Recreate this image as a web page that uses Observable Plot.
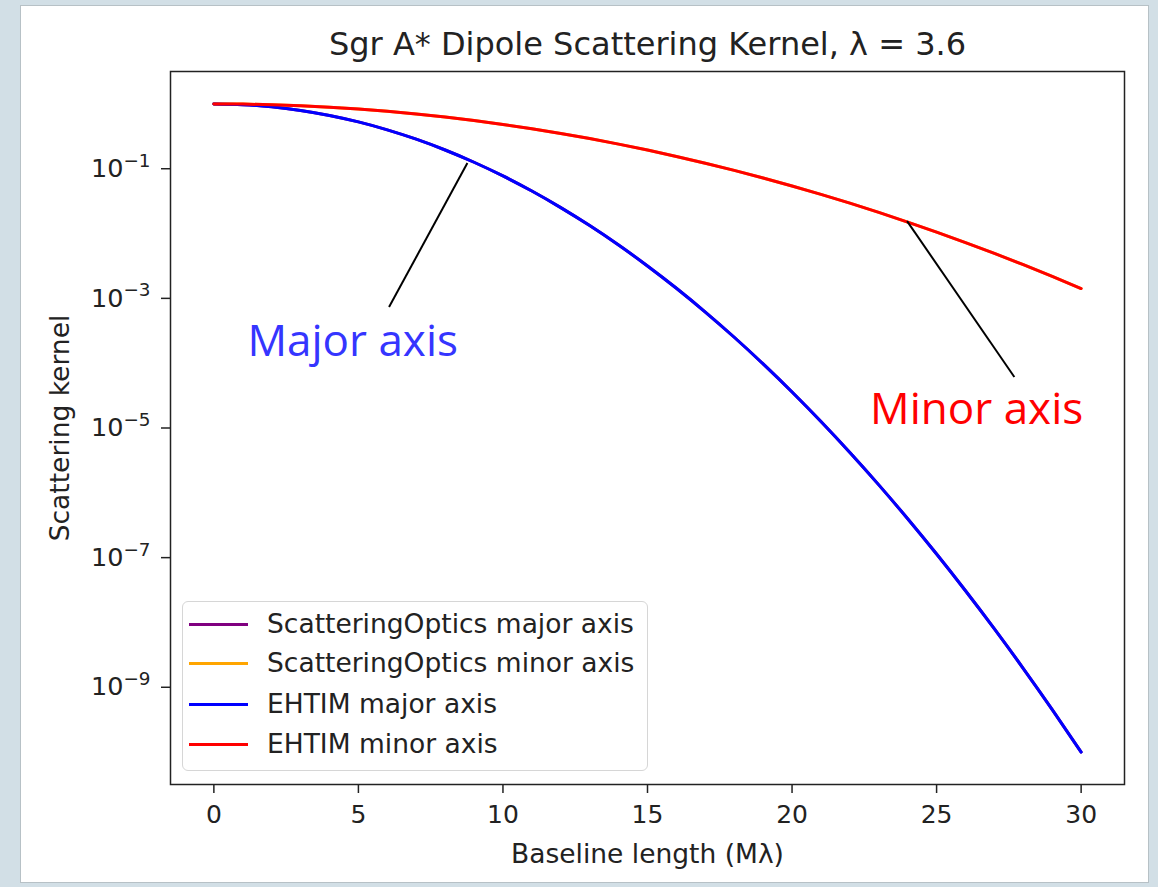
<!DOCTYPE html>
<html>
<head>
<meta charset="utf-8">
<script src="https://cdn.jsdelivr.net/npm/d3@7"></script>
<script src="https://cdn.jsdelivr.net/npm/@observablehq/plot@0.6"></script>
<style>
  html, body { margin: 0; padding: 0; }
  body { width: 1158px; height: 887px; background: #d2dfe6; position: relative; overflow: hidden; }
  #panel { position: absolute; left: 20px; top: 5px; width: 1127px; height: 876px; background: #ffffff; border: 1px solid #b7c1c6; }
  #chart { position: absolute; left: 0; top: 0; }
  #legend { position: absolute; left: 182px; top: 601px; width: 464px; height: 168px;
            border: 1px solid #d6d6d6; border-radius: 6px; background: rgba(255,255,255,0.85);
            font-family: "DejaVu Sans", sans-serif; font-size: 26.5px; color: #222; }
  .row { position: absolute; left: 0; height: 30px; }
  .swatch { position: absolute; left: 6px; width: 59px; height: 3px; top: 14px; }
  .label { position: absolute; left: 84px; top: 0; line-height: 30px; white-space: nowrap; }
</style>
</head>
<body>
<div id="panel"></div>
<div id="chart"></div>
<div id="legend"></div>
<script>
// Baseline lengths (Mλ) at which the kernels are sampled
const baseline = [0, 1, 2, 3, 4, 5, 6, 7, 8, 9, 10, 11, 12, 13, 14, 15,
                  16, 17, 18, 19, 20, 21, 22, 23, 24, 25, 26, 27, 28, 29, 30];

// Scattering kernel along the major axis (EHTIM)
const ehtimMajor = [1, 0.9747, 0.9027, 0.7943, 0.6640, 0.5275, 0.3981, 0.2855, 0.1945, 0.1259,
                    0.07743, 0.04524, 0.02512, 0.01326, 6.646e-3, 3.162e-3, 1.431e-3, 6.15e-4,
                    2.512e-4, 9.747e-5, 3.594e-5, 1.259e-5, 4.19e-6, 1.326e-6, 3.981e-7,
                    1.136e-7, 3.083e-8, 7.943e-9, 1.945e-9, 4.524e-10, 1.0e-10];

// Scattering kernel along the minor axis (EHTIM)
const ehtimMinor = [1, 0.9927, 0.9713, 0.9366, 0.8899, 0.8335, 0.7692, 0.6997, 0.6271, 0.5544,
                    0.4826, 0.4143, 0.3501, 0.2919, 0.2397, 0.1941, 0.1548, 0.1217, 0.09434,
                    0.07206, 0.05423, 0.04022, 0.02940, 0.02118, 0.01504, 0.01052, 7.257e-3,
                    4.932e-3, 3.304e-3, 2.181e-3, 1.418e-3];

// ScatteringOptics kernels coincide with the EHTIM ones
const soMajor = ehtimMajor.slice();
const soMinor = ehtimMinor.slice();

const seriesNames = ["ScatteringOptics major axis", "ScatteringOptics minor axis", "EHTIM major axis", "EHTIM minor axis"];
const seriesColors = ["#800080", "#ffa500", "#0000ff", "#ff0000"];
const seriesValues = [soMajor, soMinor, ehtimMajor, ehtimMinor];

const xTicks = [0, 5, 10, 15, 20, 25, 30];
const yTickExponents = [-1, -3, -5, -7, -9];

const titleText = "Sgr A* Dipole Scattering Kernel, λ = 3.6";
const xLabel = "Baseline length (Mλ)";
const yLabel = "Scattering kernel";

// Callout labels and their leader lines (data coordinates)
const callouts = [
  {text: "Major axis", x: 1.16, y: Math.pow(10, -3.67), color: "#3535ff"},
  {text: "Minor axis", x: 22.7, y: Math.pow(10, -4.72), color: "#ff0000"}
];
const leaders = [
  {x1: 8.77, y1: Math.pow(10, -0.913), x2: 6.06, y2: Math.pow(10, -3.134)},
  {x1: 23.98, y1: Math.pow(10, -1.808), x2: 27.69, y2: Math.pow(10, -4.214)}
];

const rows = seriesNames.flatMap((name, i) =>
  baseline.map((b, j) => ({series: name, x: b, y: seriesValues[i][j]})));

const font = "DejaVu Sans, sans-serif";

const plot = Plot.plot({
  width: 1158,
  height: 887,
  marginLeft: 170,
  marginRight: 34,
  marginTop: 71,
  marginBottom: 103,
  style: {background: "transparent", fontFamily: font, fontSize: "25px", color: "#222"},
  x: {domain: [-1.5, 31.5]},
  y: {type: "log", domain: [Math.pow(10, -10.5), Math.pow(10, 0.5)]},
  color: {domain: seriesNames, range: seriesColors},
  marks: [
    Plot.line(rows, {x: "x", y: "y", z: "series", stroke: "series", strokeWidth: 3, curve: "natural"}),
    Plot.frame({stroke: "#222", strokeWidth: 1.5}),
    Plot.axisX({ticks: xTicks, tickSize: 9, tickPadding: 12, label: null, strokeWidth: 1.5, fontSize: 25}),
    Plot.axisY({ticks: yTickExponents.map(e => Math.pow(10, e)), tickSize: 9, tickPadding: 11,
                label: null, strokeWidth: 1.5, fontSize: 25.5,
                tickFormat: d => String(Math.round(Math.log10(d)))}),
    Plot.text([titleText], {frameAnchor: "top", dy: -27, lineAnchor: "middle", fontSize: 32, fill: "#222"}),
    Plot.text([xLabel], {frameAnchor: "bottom", dy: 70, lineAnchor: "middle", fontSize: 26.5, fill: "#222"}),
    Plot.text([yLabel], {x: () => -5.3, y: () => 1e-5, rotate: -90, lineAnchor: "middle", fontSize: 26.5, fill: "#222"}),
    Plot.link(leaders, {x1: "x1", y1: "y1", x2: "x2", y2: "y2", stroke: "#000", strokeWidth: 2}),
    Plot.text(callouts, {x: "x", y: "y", text: "text", fill: "color", textAnchor: "start",
                         lineAnchor: "middle", fontSize: 44, fontFamily: "Open Sans"})
  ]
});

document.getElementById("chart").appendChild(plot);

// Render y tick labels as 10 with a raised exponent
d3.select(plot).selectAll('g[aria-label="y-axis tick label"] text').each(function () {
  const t = d3.select(this);
  const e = t.text();
  t.text("");
  t.append("tspan").text("10");
  t.append("tspan").attr("dy", "-0.55em").attr("font-size", "0.72em").text("\u2212" + e.replace("-", ""));
});

// Legend
const legend = d3.select("#legend");
const rowTops = [7, 46, 87, 127];
seriesNames.forEach((name, i) => {
  const r = legend.append("div").attr("class", "row").style("top", rowTops[i] + "px");
  r.append("div").attr("class", "swatch").style("background", seriesColors[i]);
  r.append("div").attr("class", "label").text(name);
});
</script>
</body>
</html>
